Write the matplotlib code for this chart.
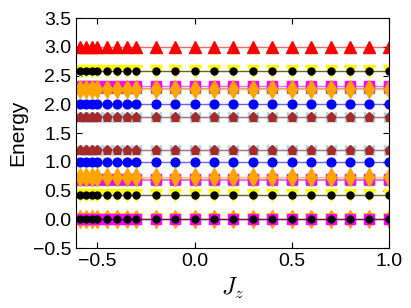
import matplotlib
matplotlib.use('Agg')
import matplotlib.pyplot as plt

plt.rcParams['font.family'] = ['Liberation Sans', 'DejaVu Sans']
plt.rcParams['mathtext.fontset'] = 'cm'
plt.rcParams['xtick.direction'] = 'in'
plt.rcParams['ytick.direction'] = 'in'
plt.rcParams['xtick.top'] = True
plt.rcParams['ytick.right'] = True

# Jz values where the spectrum was computed
jz = [-0.59, -0.56, -0.53, -0.5, -0.45, -0.4, -0.35, -0.3,
      -0.2, -0.1, 0.0, 0.1, 0.2, 0.3, 0.4, 0.5, 0.6, 0.7, 0.8, 0.9, 1.0]
n = len(jz)

# energy levels (flat in Jz)
e_top = [3.0] * n
e_upper_v = [2.58] * n
e_upper_sq = [2.32] * n
e_upper_gray = [2.29] * n
e_upper_d = [2.27] * n
e_upper_o = [2.0] * n
e_upper_p = [1.79] * n
e_lower_p = [1.2] * n
e_lower_o = [1.0] * n
e_lower_d = [0.73] * n
e_lower_sq = [0.70] * n
e_lower_gray = [0.69] * n
e_lower_v = [0.42] * n
e_ground = [0.0] * n

# (values, marker, colour, size) in drawing order, bottom to top
series = [
    (e_ground, '<', 'lightblue', 7), (e_ground, 'v', 'yellow', 8),
    (e_ground, 'd', 'orange', 9), (e_ground, 's', 'magenta', 7),
    (e_ground, 'o', 'black', 5),
    (e_lower_v, 'v', 'yellow', 8), (e_lower_v, 'o', 'black', 5),
    (e_lower_gray, 's', 'gray', 6.5), (e_lower_sq, 's', 'magenta', 7),
    (e_lower_d, 'd', 'orange', 9),
    (e_lower_o, 'o', 'blue', 6.3),
    (e_lower_p, '<', 'lightblue', 7), (e_lower_p, '>', 'lightblue', 7),
    (e_lower_p, 'p', 'brown', 6.5),
    (e_upper_p, '<', 'lightblue', 7), (e_upper_p, '>', 'lightblue', 7),
    (e_upper_p, 'p', 'brown', 6.5),
    (e_upper_o, 'o', 'blue', 6.3),
    (e_upper_gray, 's', 'gray', 6.5), (e_upper_sq, 's', 'magenta', 7),
    (e_upper_d, 'd', 'orange', 9),
    (e_upper_v, 'v', 'yellow', 8), (e_upper_v, 'o', 'black', 5),
    (e_top, '^', 'red', 8),
]

fig = plt.figure(figsize=(4.11, 3.08), dpi=100)
ax = fig.add_axes([0.185, 0.194, 0.761, 0.747])

for vals, mk, col, ms in series:
    ax.plot(jz, vals, '-', color=col, lw=1.0, alpha=0.6)
    ax.plot(jz, vals, ls='none', marker=mk, color=col, mec=col, ms=ms)

ax.set_xlim(-0.61, 1.0)
ax.set_ylim(-0.5, 3.5)
ax.set_xticks([-0.5, 0.0, 0.5, 1.0])
ax.set_yticks([-0.5, 0.0, 0.5, 1.0, 1.5, 2.0, 2.5, 3.0, 3.5])
ax.tick_params(labelsize=14, length=4)
ax.set_xlabel(r'$J_z$', fontsize=17)
ax.set_ylabel('Energy', fontsize=15)

fig.savefig('out.png', dpi=100, facecolor='white')
